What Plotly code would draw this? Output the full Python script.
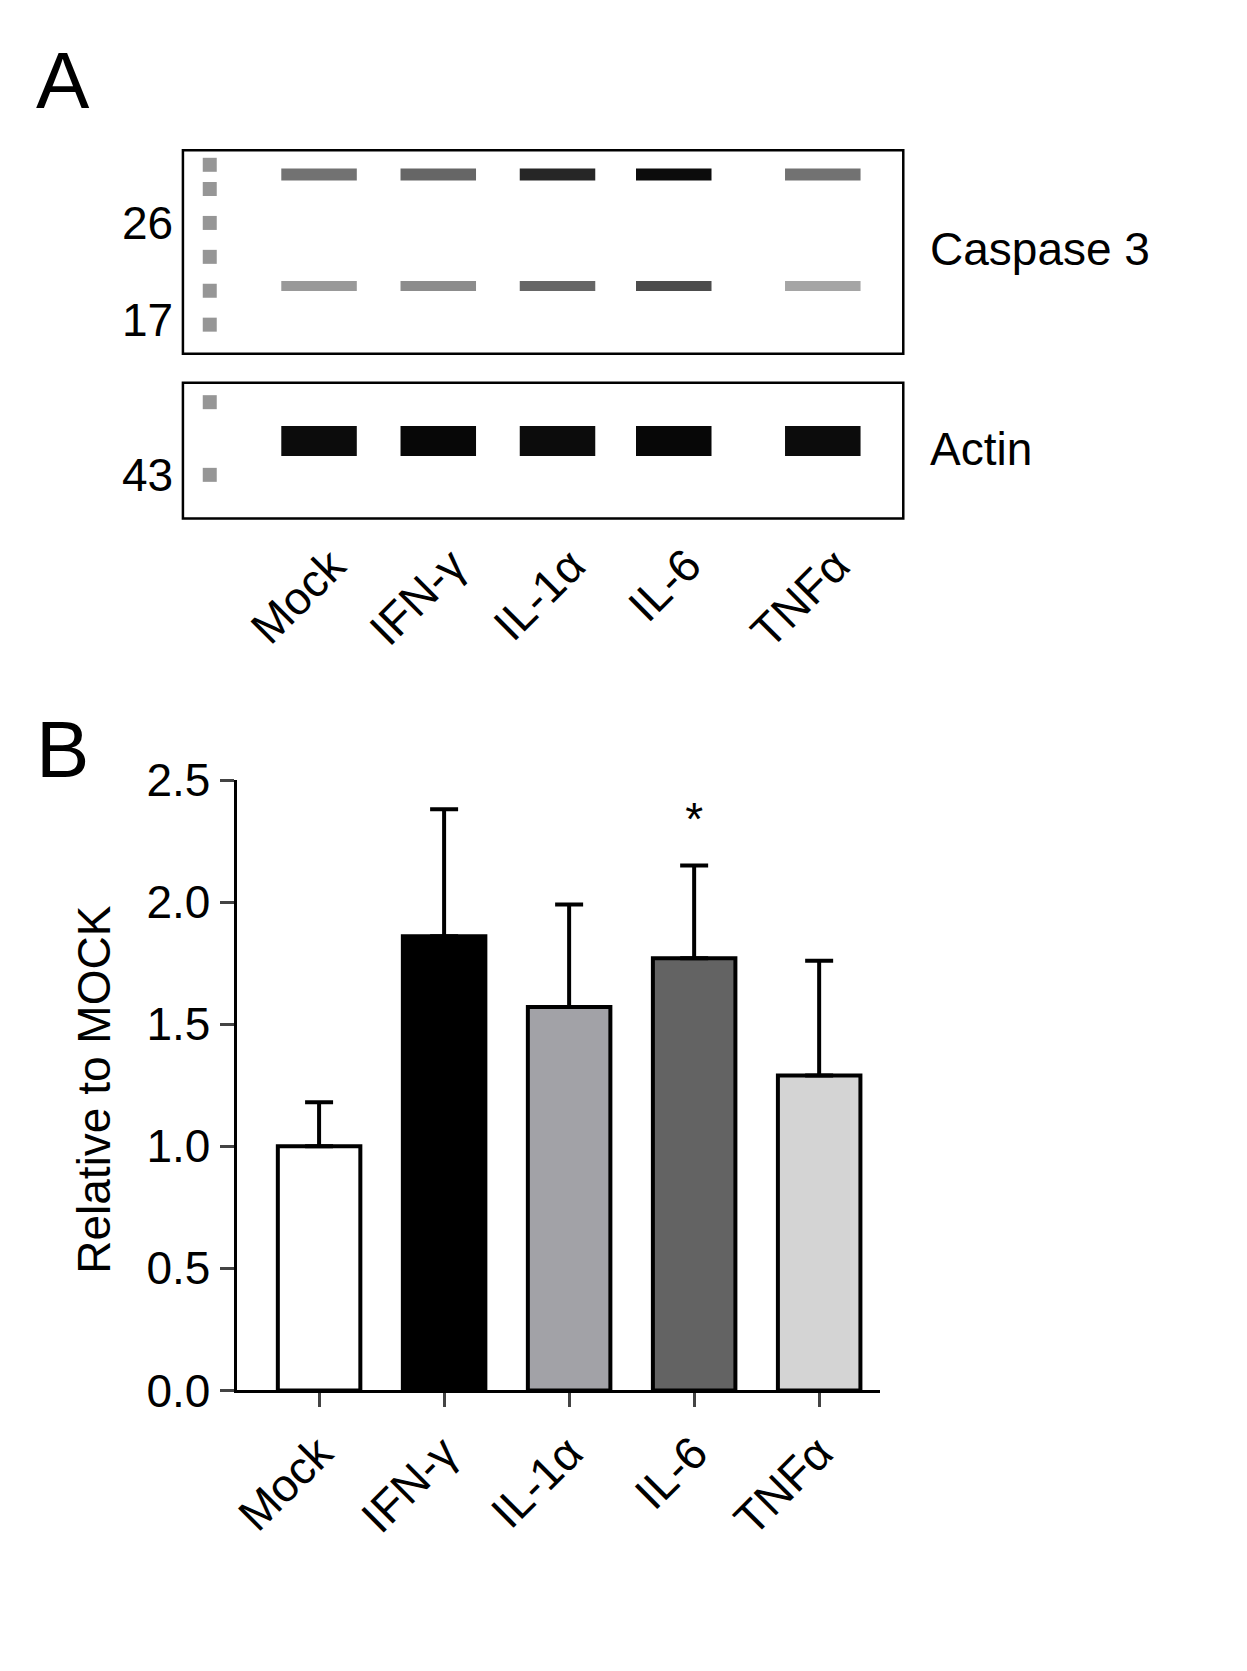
import plotly.graph_objects as go

W, H = 1247, 1671
# Panel B data
groups = ["Mock", "IFN-γ", "IL-1α", "IL-6", "TNFα"]
means = [1.0, 1.86, 1.57, 1.77, 1.29]
errors = [0.18, 0.52, 0.42, 0.38, 0.47]
bar_colors = ["#ffffff", "#000000", "#a2a2a7", "#636363", "#d4d4d4"]
sig = ["", "", "", "*", ""]
yticks = [0.0, 0.5, 1.0, 1.5, 2.0, 2.5]

# Panel A (blot) data
lane_x = [305, 425, 545, 662, 812]
band_upper = [0.55, 0.6, 0.85, 0.95, 0.55]
band_lower = [0.4, 0.45, 0.6, 0.7, 0.35]
band_actin = [0.95, 0.97, 0.95, 0.97, 0.95]
mw_labels = ["26", "17", "43"]
mw_y = [195, 295, 455]

FS = 46

def gray(v):
    c = int(255 * (1 - v))
    return f"rgb({c},{c},{c})"

fig = go.Figure()
fig.add_trace(go.Bar(x=list(range(5)), y=means, width=0.66,
                     marker=dict(color=bar_colors, line=dict(color="black", width=4)),
                     error_y=dict(type="data", symmetric=False, array=errors, arrayminus=[0]*5,
                                  color="black", thickness=4, width=14),
                     xaxis="x", yaxis="y", showlegend=False))
fig.add_trace(go.Scatter(x=[3], y=[means[3] + errors[3] + 0.17], mode="text", text=[sig[3]],
                         textfont=dict(size=46, color="black", family="Liberation Sans"),
                         xaxis="x", yaxis="y", showlegend=False))

for i, x in enumerate(lane_x):
    for yv, v, w in [(145, band_upper[i], 12), (260, band_lower[i], 10), (420, band_actin[i], 30)]:
        fig.add_trace(go.Scatter(x=[x - 38, x + 38], y=[yv, yv], mode="lines",
                                 line=dict(color=gray(v), width=w), xaxis="x3", yaxis="y3",
                                 showlegend=False, hoverinfo="skip"))
ladder_y = [135, 160, 195, 230, 265, 300, 380, 455]
fig.add_trace(go.Scatter(x=[195]*len(ladder_y), y=ladder_y, mode="markers",
                         marker=dict(color="rgb(150,150,150)", size=14, symbol="square"),
                         xaxis="x3", yaxis="y3", showlegend=False, hoverinfo="skip"))

shapes = [
    dict(type="rect", xref="x3", yref="y3", x0=168, x1=893, y0=120, y1=330, line=dict(color="black", width=2.5)),
    dict(type="rect", xref="x3", yref="y3", x0=168, x1=893, y0=360, y1=500, line=dict(color="black", width=2.5)),
]
anns = []
for t, xv, yv in [("A", 18, 0), ("B", 18, 690)]:
    anns.append(dict(xref="x3", yref="y3", x=xv, y=yv, text=t, showarrow=False, xanchor="left",
                     yanchor="top", font=dict(family="Liberation Sans", color="black", size=80)))
for t, yv in [("Caspase 3", 222), ("Actin", 428)]:
    anns.append(dict(xref="x3", yref="y3", x=918, y=yv, text=t, showarrow=False, xanchor="left",
                     font=dict(family="Liberation Sans", color="black", size=FS)))
for t, yv in zip(mw_labels, mw_y):
    anns.append(dict(xref="x3", yref="y3", x=160, y=yv, text=t, showarrow=False, xanchor="right",
                     font=dict(family="Liberation Sans", size=FS, color="black")))
for g, x in zip(groups, lane_x):
    anns.append(dict(xref="x3", yref="y3", x=x + 40, y=518, text=g, showarrow=False, textangle=-45,
                     xanchor="right", yanchor="top",
                     font=dict(family="Liberation Sans", size=FS, color="black")))
anns.append(dict(xref="paper", yref="paper", x=50 / W, y=1 - 1090 / H, text="Relative to MOCK",
                 showarrow=False, textangle=-90, font=dict(family="Liberation Sans", size=FS, color="black")))

fig.update_layout(
    width=W, height=H, margin=dict(l=0, r=0, t=0, b=0),
    plot_bgcolor="rgba(0,0,0,0)", paper_bgcolor="white", shapes=shapes, annotations=anns,
    font=dict(family="Liberation Sans", color="black"),
    xaxis=dict(domain=[222 / W, 870 / W], range=[-0.66, 4.49], tickvals=list(range(5)), ticktext=groups,
               tickangle=-45, ticks="outside", ticklen=14, tickwidth=3, showline=True, linewidth=3,
               linecolor="black", showgrid=False, tickfont=dict(size=FS)),
    yaxis=dict(domain=[1 - 1400 / H, 1 - 770 / H], range=[0, 2.5], tickvals=yticks,
               ticktext=[f"{v:.1f}" for v in yticks], ticks="outside", ticklen=14, tickwidth=3,
               showline=True, linewidth=3, linecolor="black", showgrid=False, zeroline=False,
               tickfont=dict(size=FS)),
    xaxis3=dict(domain=[0, 1], range=[0, W], visible=False, anchor="y3"),
    yaxis3=dict(domain=[0, 1], range=[H, 0], visible=False, anchor="x3"),
)
fig.write_html("out.html")
